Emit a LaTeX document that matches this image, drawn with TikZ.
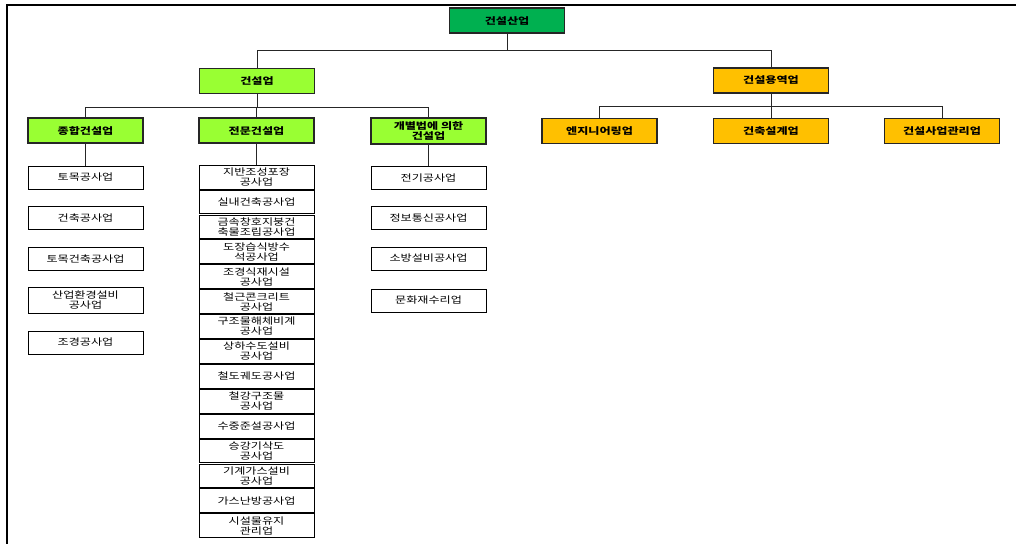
\documentclass[tikz,border=0pt]{standalone}
\usepackage{fontspec}
\newfontfamily\kr[FakeStretch=1.3]{Noto Sans CJK KR}
\definecolor{topgreen}{HTML}{00B050}
\definecolor{limegreen}{HTML}{99FF33}
\definecolor{amber}{HTML}{FFC000}
\tikzset{
  cat/.style={draw=black!85, line width=1.3pt, minimum width=115pt, minimum height=25pt,
    inner sep=0pt, align=center, font=\kr\bfseries\fontsize{9.3}{10}\selectfont},
  topbox/.style={cat, fill=topgreen},
  midbox/.style={cat, fill=limegreen},
  svcbox/.style={cat, fill=amber},
  leaf/.style={draw=black, line width=0.8pt, fill=white, minimum width=115pt, minimum height=23pt,
    inner sep=0pt, align=center, font=\kr\fontsize{9.3}{10}\selectfont},
  leafii/.style={leaf, minimum height=23.8pt},
  conn/.style={draw=black!85, line width=1pt}
}
\begin{document}
\begin{tikzpicture}[x=1pt,y=-1pt]
\useasboundingbox (0,0) rectangle (1016,544);
\draw[line width=1.8pt] (1016,5) -- (7,5) -- (7,544);

\node[topbox] (top) at (507,20.5) {건설산업};
\node[midbox] (cu) at (257,81) {건설업};
\node[svcbox] (su) at (771,80.5) {건설용역업};

\node[midbox] (g1) at (85.5,130.5) {종합건설업};
\node[midbox] (g2) at (256.5,130.5) {전문건설업};
\node[midbox, minimum height=26pt] (g3) at (428.5,131) {개별법에 의한\\건설업};

\node[svcbox] (s1) at (599.5,131) {엔지니어링업};
\node[svcbox] (s2) at (771,131) {건축설계업};
\node[svcbox] (s3) at (942,131) {건설사업관리업};

\coordinate (bus1) at (507,50);
\coordinate (bus2) at (257,107);
\coordinate (bus3) at (771,106);
\draw[conn] (top.south) -- (bus1);
\draw[conn] (cu.north) -- (cu.north |- bus1) -- (su.north |- bus1) -- (su.north);
\draw[conn] (cu.south) -- (bus2);
\draw[conn] (g1.north) -- (g1.north |- bus2) -- (g3.north |- bus2) -- (g3.north);
\draw[conn] (g2.north) -- (g2.north |- bus2);
\draw[conn] (su.south) -- (bus3);
\draw[conn] (s1.north) -- (s1.north |- bus3) -- (s3.north |- bus3) -- (s3.north);
\draw[conn] (s2.north) -- (s2.north |- bus3);

% left column
\node[leaf] (a1) at (85.5,177.5) {토목공사업};
\node[leaf] (a2) at (85.5,217.5) {건축공사업};
\node[leaf] (a3) at (85.5,259) {토목건축공사업};
\node[leaf, minimum height=26pt] (a4) at (85.5,300) {산업환경설비\\공사업};
\node[leaf] (a5) at (85.5,342.5) {조경공사업};
\draw[conn] (g1.south) -- (a1.north);

% middle column
\node[leafii] (b1) at (256.5,177) {지반조성포장\\공사업};
\node[leafii] (b2) at (256.5,201.9) {실내건축공사업};
\node[leafii] (b3) at (256.5,226.8) {금속창호지붕건\\축물조립공사업};
\node[leafii] (b4) at (256.5,251.7) {도장습식방수\\석공사업};
\node[leafii] (b5) at (256.5,276.6) {조경식재시설\\공사업};
\node[leafii] (b6) at (256.5,301.5) {철근콘크리트\\공사업};
\node[leafii] (b7) at (256.5,326.4) {구조물해체비계\\공사업};
\node[leafii] (b8) at (256.5,351.3) {상하수도설비\\공사업};
\node[leafii] (b9) at (256.5,376.2) {철도궤도공사업};
\node[leafii] (b10) at (256.5,401.1) {철강구조물\\공사업};
\node[leafii] (b11) at (256.5,426) {수중준설공사업};
\node[leafii] (b12) at (256.5,450.9) {승강기삭도\\공사업};
\node[leafii] (b13) at (256.5,475.8) {기계가스설비\\공사업};
\node[leafii] (b14) at (256.5,500.7) {가스난방공사업};
\node[leafii] (b15) at (256.5,525.6) {시설물유지\\관리업};
\draw[conn] (g2.south) -- (b1.north);

% right column
\node[leaf] (c1) at (428.5,178) {전기공사업};
\node[leaf] (c2) at (428.5,218) {정보통신공사업};
\node[leaf] (c3) at (428.5,258.5) {소방설비공사업};
\node[leaf] (c4) at (428.5,300.5) {문화재수리업};
\draw[conn] (g3.south) -- (c1.north);
\end{tikzpicture}
\end{document}
